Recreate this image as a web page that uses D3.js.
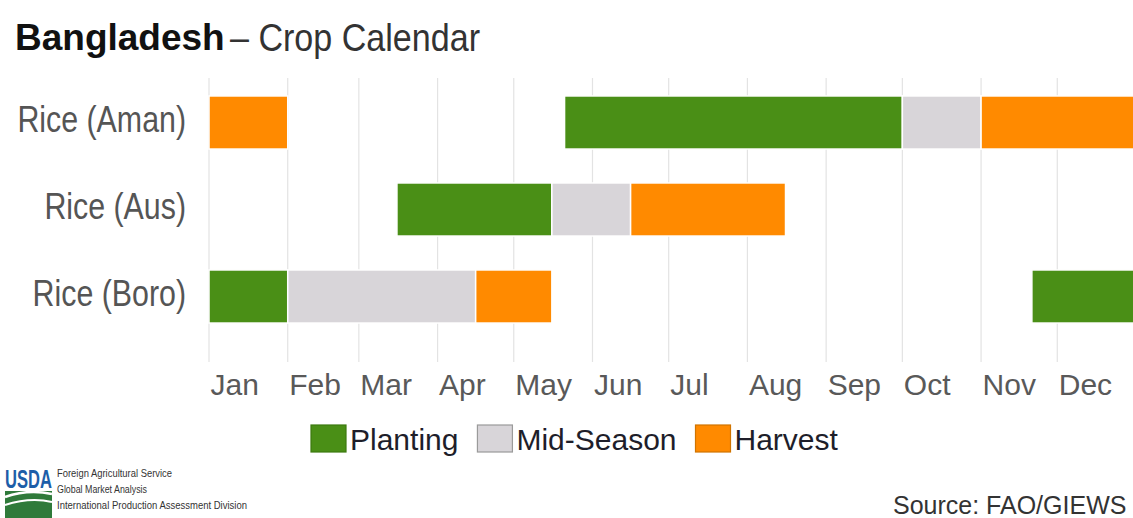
<!DOCTYPE html>
<html>
<head>
<meta charset="utf-8">
<script src="https://cdn.jsdelivr.net/npm/d3@7"></script>
<style>
  body { margin: 0; background: #fff; }
  svg { display: block; font-family: "Liberation Sans", Arial, sans-serif; }
</style>
</head>
<body>
<script>
// data
const crops = ["Rice (Aman)", "Rice (Aus)", "Rice (Boro)"]
const stages = ["Planting", "Mid-Season", "Harvest"]
const stageColors = ["#4a8f16", "#d8d5d9", "#ff8a00"]
const months = ["Jan", "Feb", "Mar", "Apr", "May", "Jun", "Jul", "Aug", "Sep", "Oct", "Nov", "Dec"]
// crop, stage, start (MM-DD), end (MM-DD, "end" = 31 Dec)
const segCrop  = ["Rice (Aman)", "Rice (Aman)", "Rice (Aman)", "Rice (Aman)",
                  "Rice (Aus)", "Rice (Aus)", "Rice (Aus)",
                  "Rice (Boro)", "Rice (Boro)", "Rice (Boro)", "Rice (Boro)"]
const segStage = ["Harvest", "Planting", "Mid-Season", "Harvest",
                  "Planting", "Mid-Season", "Harvest",
                  "Planting", "Mid-Season", "Harvest", "Planting"]
const segStart = ["01-01", "05-21", "10-01", "11-01",
                  "03-16", "05-16", "06-16",
                  "01-01", "02-01", "04-16", "11-21"]
const segEnd   = ["02-01", "10-01", "11-01", "end",
                  "05-16", "06-16", "08-16",
                  "02-01", "04-16", "05-16", "end"]

const width = 1133, height = 518
const YEAR = 2019
const parseDay = s => s === "end" ? new Date(YEAR + 1, 0, 1) : d3.timeParse("%Y-%m-%d")(YEAR + "-" + s)

const segments = segCrop.map((c, i) => ({
    crop: c, stage: segStage[i], start: parseDay(segStart[i]), end: parseDay(segEnd[i])
}))

const svg = d3.select("body").append("svg")
    .attr("width", width)
    .attr("height", height)

const x = d3.scaleTime()
    .domain([new Date(YEAR, 0, 1), new Date(YEAR + 1, 0, 1)])
    .range([209, 1136])
const y = d3.scaleBand()
    .domain(crops)
    .range([79, 340])
    .paddingInner(0.39)
    .paddingOuter(0.195)
const color = d3.scaleOrdinal().domain(stages).range(stageColors)

// helper: squeeze text a little, the source uses a narrow face
function condense(sel, k) {
    sel.each(function () {
        const w = this.getComputedTextLength()
        d3.select(this).attr("textLength", w * k).attr("lengthAdjust", "spacingAndGlyphs")
    })
}

// title
svg.append("text")
    .attr("x", 15).attr("y", 50)
    .attr("font-size", 37).attr("font-weight", "bold").attr("fill", "#111")
    .text("Bangladesh")
svg.append("text")
    .attr("x", 230).attr("y", 51)
    .attr("font-size", 39).attr("fill", "#333")
    .text("– Crop Calendar")
    .attr("textLength", 250).attr("lengthAdjust", "spacingAndGlyphs")

// gridlines at month starts
const monthStarts = months.map((m, i) => new Date(YEAR, i, 1))
svg.append("g")
    .selectAll("line")
    .data(monthStarts)
    .join("line")
    .attr("x1", d => x(d)).attr("x2", d => x(d))
    .attr("y1", 78).attr("y2", 362)
    .attr("stroke", "#e3e3e3")
    .attr("stroke-width", 1.2)

// x axis labels, left-aligned at each month start
const xAxis = d3.axisBottom(x)
    .tickValues(monthStarts)
    .tickFormat((d, i) => months[i])
    .tickSize(0)
    .tickPadding(0)
const gx = svg.append("g")
    .attr("transform", "translate(0,373)")
    .call(xAxis)
gx.select(".domain").remove()
gx.selectAll("text")
    .attr("text-anchor", "start")
    .attr("dy", 0)
    .attr("y", 22)
    .attr("x", 1)
    .attr("font-size", 30)
    .attr("font-family", "Liberation Sans, Arial, sans-serif")
    .attr("fill", "#595959")

// y labels
const gy = svg.append("g")
gy.selectAll("text")
    .data(crops)
    .join("text")
    .attr("x", 186)
    .attr("y", d => y(d) + y.bandwidth() / 2 + 9)
    .attr("text-anchor", "end")
    .attr("font-size", 37)
    .attr("fill", "#555")
    .text(d => d)
    .call(condense, 0.82)

// bars
svg.append("g")
    .selectAll("rect")
    .data(segments)
    .join("rect")
    .attr("x", d => x(d.start))
    .attr("width", d => x(d.end) - x(d.start))
    .attr("y", d => y(d.crop))
    .attr("height", y.bandwidth())
    .attr("fill", d => color(d.stage))
    .attr("stroke", "#fff")
    .attr("stroke-width", 1.5)

// legend
const legendBorder = ["#3d7a10", "#9a9a9a", "#d07400"]
let lx = 311
stages.forEach((s, i) => {
    svg.append("rect")
        .attr("x", lx).attr("y", 425)
        .attr("width", 35).attr("height", 27)
        .attr("fill", stageColors[i])
        .attr("stroke", legendBorder[i])
        .attr("stroke-width", 1.2)
    const t = svg.append("text")
        .attr("x", lx + 39).attr("y", 450)
        .attr("font-size", 30)
        .attr("fill", "#1e1e2a")
        .text(s)
    lx = lx + 39 + t.node().getComputedTextLength() + 19
})

// footer: USDA mark
const logo = svg.append("g")
logo.append("text")
    .attr("transform", "translate(5,488) scale(0.92,1.4)")
    .attr("font-size", 18).attr("font-weight", "bold")
    .attr("fill", "#1d5ea8")
    .text("USDA")
logo.append("rect")
    .attr("x", 5).attr("y", 491).attr("width", 47).attr("height", 27)
    .attr("fill", "#2f7a3a")
logo.append("path")
    .attr("d", "M5,497 Q28,489 52,494")
    .attr("fill", "none").attr("stroke", "#fff").attr("stroke-width", 2.5)
logo.append("path")
    .attr("d", "M5,505 Q30,497 52,502")
    .attr("fill", "none").attr("stroke", "#fff").attr("stroke-width", 2)

const footLines = ["Foreign Agricultural Service", "Global Market Analysis", "International Production Assessment Division"]
const footLens = [115, 90, 190]
footLines.forEach((s, i) => {
    svg.append("text")
        .attr("x", 57).attr("y", 477 + i * 16)
        .attr("font-size", 10.5)
        .attr("fill", "#333")
        .text(s)
        .attr("textLength", footLens[i]).attr("lengthAdjust", "spacingAndGlyphs")
})

svg.append("text")
    .attr("x", 893).attr("y", 514)
    .attr("font-size", 25)
    .attr("fill", "#333")
    .text("Source: FAO/GIEWS")
</script>
</body>
</html>
